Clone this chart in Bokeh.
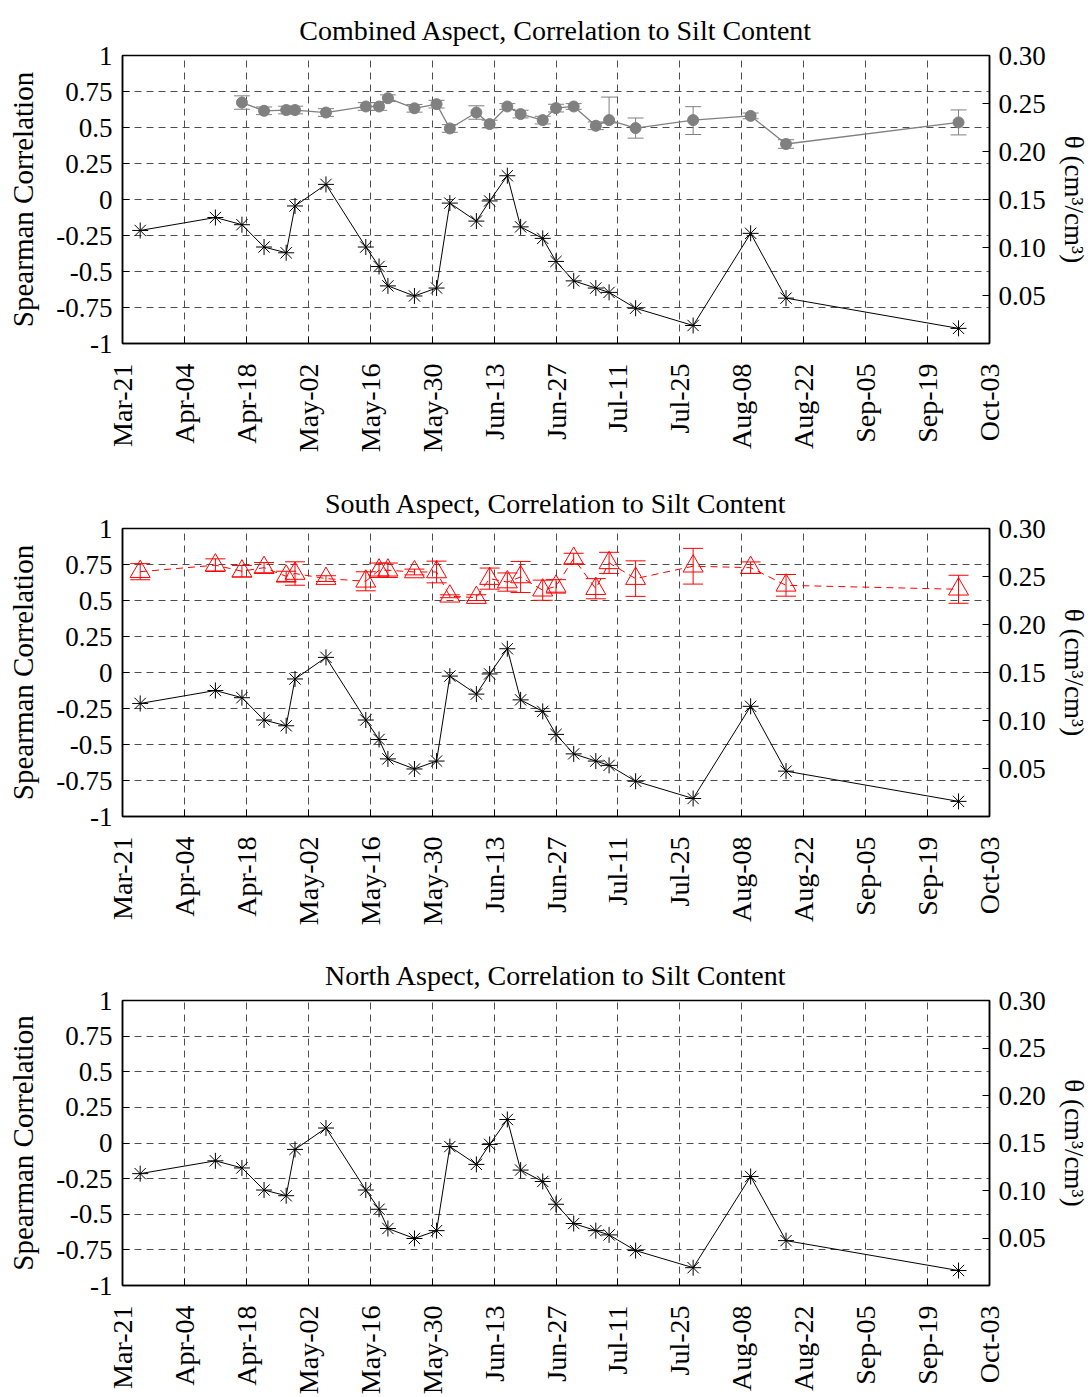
import math
import pandas as pd
from bokeh.plotting import figure
from bokeh.models import (Range1d, LinearAxis, FixedTicker, PrintfTickFormatter,
                          DatetimeTickFormatter, CustomJSTickFormatter,
                          ColumnDataSource, Whisker, TeeHead)
from bokeh.layouts import column
from bokeh.embed import file_html
from bokeh.resources import INLINE

YEAR = 2007

# ---------------- data ----------------
tick_dates = ["03-21", "04-04", "04-18", "05-02", "05-16", "05-30", "06-13",
              "06-27", "07-11", "07-25", "08-08", "08-22", "09-05", "09-19", "10-03"]

sample_dates = ["03-25", "04-11", "04-17", "04-22", "04-27", "04-29", "05-06",
                "05-15", "05-18", "05-20", "05-26", "05-31", "06-03", "06-09",
                "06-12", "06-16", "06-19", "06-24", "06-27", "07-01", "07-06",
                "07-09", "07-15", "07-28", "08-10", "08-18", "09-26"]

# Spearman correlation (black asterisks)
corr = [-0.215, -0.125, -0.175, -0.33, -0.37, -0.045, 0.105,
        -0.33, -0.465, -0.60, -0.67, -0.615, -0.025, -0.15,
        -0.01, 0.165, -0.19, -0.27, -0.43, -0.565, -0.615,
        -0.645, -0.755, -0.875, -0.235, -0.685, -0.895]

# Combined aspect soil moisture (grey circles), starts at 3rd sample date
gray_dates = sample_dates[2:]
gray_theta = [0.2510, 0.2424, 0.2432, 0.2432, 0.2406, 0.2469, 0.2469, 0.2555,
              0.2450, 0.2493, 0.2240, 0.2406, 0.2286, 0.2469, 0.2390, 0.2327,
              0.2452, 0.2469, 0.2268, 0.2327, 0.2244, 0.2327, 0.2371, 0.2078,
              0.2303]
gray_err_lo = [0.007, 0.004, 0.004, 0.004, 0.004, 0.004, 0.004, 0.0035,
               0.004, 0.004, 0.004, 0.007, 0.004, 0.003, 0.004, 0.004,
               0.004, 0.003, 0.004, 0.003, 0.0105, 0.015, 0.003, 0.0045,
               0.013]
gray_err_hi = [0.007, 0.004, 0.004, 0.004, 0.004, 0.004, 0.004, 0.0035,
               0.004, 0.004, 0.004, 0.007, 0.004, 0.003, 0.004, 0.004,
               0.004, 0.003, 0.004, 0.024, 0.0105, 0.014, 0.003, 0.0045,
               0.013]

# South aspect soil moisture (red triangles)
red_theta = [0.2550, 0.2618, 0.2555, 0.2592, 0.2502, 0.2531, 0.2478, 0.2450,
             0.2565, 0.2565, 0.2547, 0.2547, 0.2294, 0.2280, 0.2478, 0.2442,
             0.2495, 0.2357, 0.2397, 0.2687, 0.2373, 0.2642, 0.2478, 0.2607,
             0.2592, 0.2408, 0.2367]
red_err = [0.0084, 0.0066, 0.0060, 0.0053, 0.0053, 0.0122, 0.0030, 0.0099,
           0.0075, 0.0075, 0.0030, 0.0113, 0.0015, 0.0030, 0.0110, 0.0095,
           0.0162, 0.0105, 0.0070, 0.0055, 0.0105, 0.0110, 0.0185, 0.0186,
           0.0060, 0.0113, 0.0146]

left_ticks = [-1, -0.75, -0.5, -0.25, 0, 0.25, 0.5, 0.75, 1]
right_ticks = [0.05, 0.10, 0.15, 0.20, 0.25, 0.30]

titles = ["Combined Aspect, Correlation to Silt Content",
          "South Aspect, Correlation to Silt Content",
          "North Aspect, Correlation to Silt Content"]

# --------------- helpers ---------------
def to_dt(lst):
    return pd.to_datetime([f"{YEAR}-{d}" for d in lst])

tick_dt = to_dt(tick_dates)
tick_ms = [(t - pd.Timestamp("1970-01-01")) / pd.Timedelta(milliseconds=1) for t in tick_dt]

FONT = "Liberation Serif"
GRID_COLOR = "#4d4d4d"
FIG_W = 1091


def make_fig(title, height, min_bottom):
    p = figure(width=FIG_W, height=height, x_axis_type="datetime",
               x_range=Range1d(tick_dt[0], tick_dt[-1]),
               y_range=Range1d(-1, 1),
               output_backend="svg", toolbar_location=None,
               min_border_left=122, min_border_right=101,
               min_border_top=55, min_border_bottom=min_bottom,
               title=title)
    p.title.align = "center"
    p.title.text_font = FONT
    p.title.text_font_size = "28px"
    p.title.text_font_style = "normal"
    p.title.text_color = "black"
    p.title.text_line_height = 0.8
    p.title.standoff = 20

    p.outline_line_color = "black"
    p.outline_line_width = 1.5
    p.background_fill_color = "white"
    p.border_fill_color = "white"

    # x axis
    xa = p.xaxis[0]
    xa.ticker = FixedTicker(ticks=tick_ms)
    fmt = "%b-%d"
    xa.formatter = DatetimeTickFormatter(
        microseconds=fmt, milliseconds=fmt, seconds=fmt, minsec=fmt,
        minutes=fmt, hourmin=fmt, hours=fmt, days=fmt, months=fmt, years=fmt)
    xa.major_label_orientation = math.pi / 2
    xa.major_label_text_font = FONT
    xa.major_label_text_font_size = "28px"
    xa.major_label_text_color = "black"
    xa.major_label_standoff = 20
    xa.major_tick_in = 7
    xa.major_tick_out = 0
    xa.minor_tick_in = 0
    xa.minor_tick_out = 0
    xa.axis_line_width = 1.5

    # left axis
    ya = p.yaxis[0]
    ya.ticker = FixedTicker(ticks=left_ticks)
    ya.formatter = CustomJSTickFormatter(code="return tick.toString();")
    ya.axis_label = "Spearman Correlation"
    ya.axis_label_text_font = FONT
    ya.axis_label_text_font_size = "29px"
    ya.axis_label_text_font_style = "normal"
    ya.axis_label_text_color = "black"
    ya.axis_label_standoff = 14
    ya.major_label_text_font = FONT
    ya.major_label_text_font_size = "27px"
    ya.major_label_text_color = "black"
    ya.major_label_standoff = 10
    ya.major_tick_in = 7
    ya.major_tick_out = 0
    ya.minor_tick_in = 0
    ya.minor_tick_out = 0
    ya.axis_line_width = 1.5

    # right axis (theta)
    p.extra_y_ranges = {"theta": Range1d(0, 0.30)}
    ra = LinearAxis(y_range_name="theta",
                    ticker=FixedTicker(ticks=right_ticks),
                    formatter=PrintfTickFormatter(format="%.2f"),
                    axis_label="θ (cm³/cm³)")
    ra.axis_label_text_font = FONT
    ra.axis_label_text_font_size = "27px"
    ra.axis_label_text_font_style = "normal"
    ra.axis_label_text_color = "black"
    ra.axis_label_standoff = 10
    ra.major_label_text_font = FONT
    ra.major_label_text_font_size = "27px"
    ra.major_label_text_color = "black"
    ra.major_label_standoff = 9
    ra.major_tick_in = 7
    ra.major_tick_out = 0
    ra.minor_tick_in = 0
    ra.minor_tick_out = 0
    ra.axis_line_width = 1.5
    p.add_layout(ra, "right")

    # grids
    for g in (p.xgrid[0], p.ygrid[0]):
        g.grid_line_color = GRID_COLOR
        g.grid_line_dash = "7 5"
        g.grid_line_width = 1
    return p


def add_corr(p):
    src = ColumnDataSource(dict(date=to_dt(sample_dates), corr=corr))
    p.line("date", "corr", source=src, line_color="black", line_width=1)
    p.scatter("date", "corr", source=src, marker="asterisk", size=16,
              line_color="black", line_width=1)


def add_gray(p):
    lo = [v - e for v, e in zip(gray_theta, gray_err_lo)]
    hi = [v + e for v, e in zip(gray_theta, gray_err_hi)]
    src = ColumnDataSource(dict(date=to_dt(gray_dates), theta=gray_theta, lo=lo, hi=hi))
    c = "#808080"
    p.add_layout(Whisker(base="date", lower="lo", upper="hi", source=src,
                         y_range_name="theta", line_color=c, line_width=1,
                         upper_head=TeeHead(size=16, line_color=c, line_width=1),
                         lower_head=TeeHead(size=16, line_color=c, line_width=1)))
    p.line("date", "theta", source=src, y_range_name="theta",
           line_color=c, line_width=1.3)
    p.scatter("date", "theta", source=src, y_range_name="theta", marker="circle",
              size=11, fill_color=c, line_color=c)


def add_red(p):
    lo = [v - e for v, e in zip(red_theta, red_err)]
    hi = [v + e for v, e in zip(red_theta, red_err)]
    src = ColumnDataSource(dict(date=to_dt(sample_dates), theta=red_theta, lo=lo, hi=hi))
    c = "#ff0000"
    p.add_layout(Whisker(base="date", lower="lo", upper="hi", source=src,
                         y_range_name="theta", line_color=c, line_width=1,
                         upper_head=TeeHead(size=20, line_color=c, line_width=1),
                         lower_head=TeeHead(size=20, line_color=c, line_width=1)))
    p.line("date", "theta", source=src, y_range_name="theta",
           line_color=c, line_width=1, line_dash="7 5")
    p.scatter("date", "theta", source=src, y_range_name="theta", marker="triangle",
              size=20, fill_color=None, line_color=c, line_width=1)


p1 = make_fig(titles[0], 473, 130)
add_gray(p1)
add_corr(p1)

p2 = make_fig(titles[1], 472, 129)
add_red(p2)
add_corr(p2)

p3 = make_fig(titles[2], 452, 109)
add_corr(p3)

layout = column(p1, p2, p3, spacing=0)
open("out.html", "w").write(file_html(layout, INLINE))
